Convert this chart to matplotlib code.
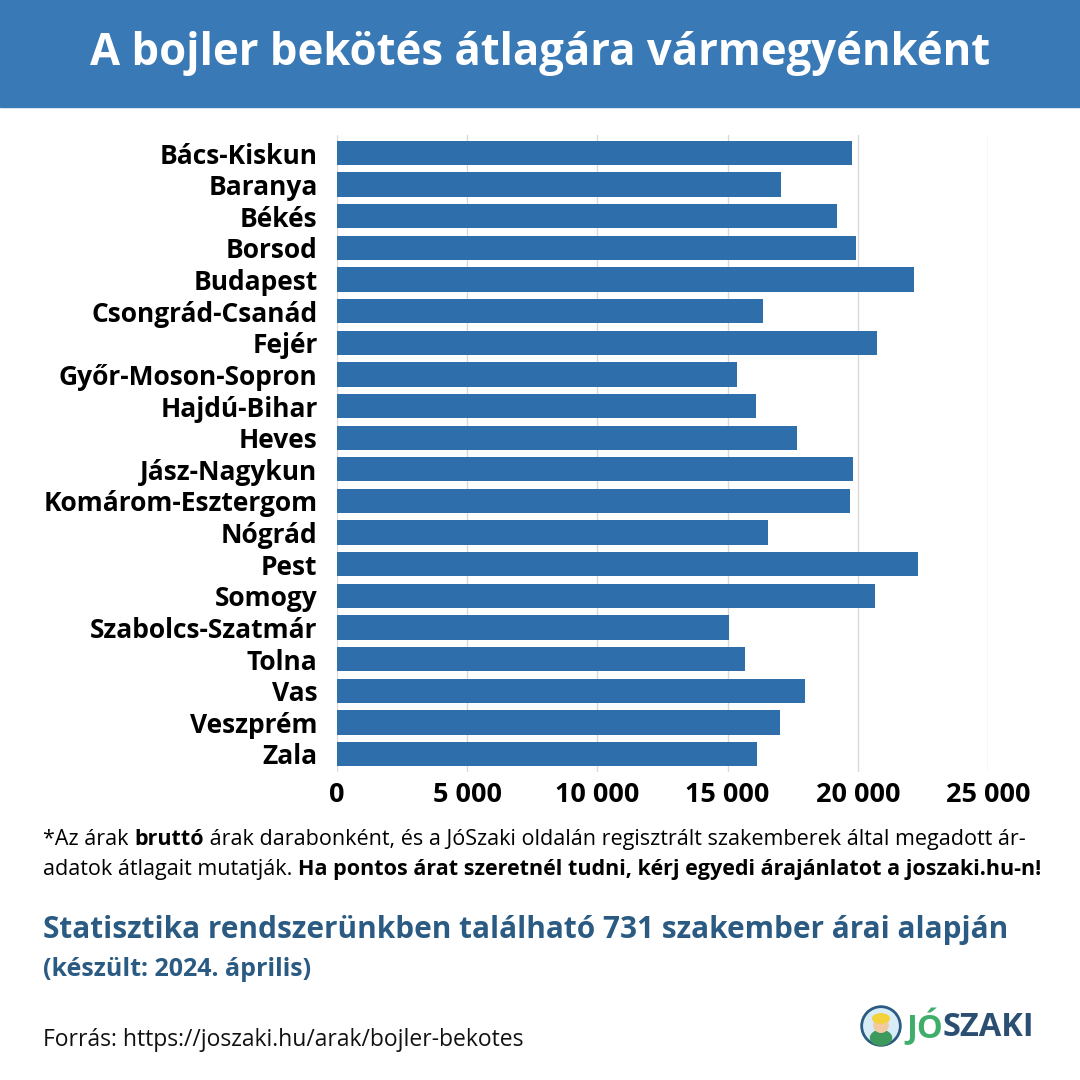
import numpy as np
import matplotlib
matplotlib.use('Agg')
import matplotlib.pyplot as plt
from matplotlib.patches import Rectangle, Circle, Ellipse
from matplotlib.ticker import FuncFormatter

plt.rcParams['font.family'] = ['Open Sans', 'Noto Sans', 'DejaVu Sans']

# adatok
counties = ['Bács-Kiskun', 'Baranya', 'Békés', 'Borsod', 'Budapest', 'Csongrád-Csanád',
            'Fejér', 'Győr-Moson-Sopron', 'Hajdú-Bihar', 'Heves', 'Jász-Nagykun',
            'Komárom-Esztergom', 'Nógrád', 'Pest', 'Somogy', 'Szabolcs-Szatmár',
            'Tolna', 'Vas', 'Veszprém', 'Zala']
prices = [19770, 17040, 19190, 19920, 22150, 16350, 20730, 15350, 16080, 17650,
          19810, 19690, 16540, 22310, 20650, 15040, 15650, 17960, 17000, 16120]
xticks = [0, 5000, 10000, 15000, 20000, 25000]

title = 'A bojler bekötés átlagára vármegyénként'
note1 = [('*Az árak ', 'normal'), ('bruttó', 'bold'),
         (' árak darabonként, és a JóSzaki oldalán regisztrált szakemberek által megadott ár-', 'normal')]
note2 = [('adatok átlagait mutatják. ', 'normal'),
         ('Ha pontos árat szeretnél tudni, kérj egyedi árajánlatot a joszaki.hu-n!', 'bold')]
stat_line = 'Statisztika rendszerünkben található 731 szakember árai alapján'
date_line = '(készült: 2024. április)'
source = 'Forrás: https://joszaki.hu/arak/bojler-bekotes'

BAR = '#2e6fab'
HEAD = '#3879b6'
DARK = '#2b5b82'

W = H = 1080
fig = plt.figure(figsize=(10.8, 10.8), dpi=100)
fig.patch.set_facecolor('white')

# fejléc
fig.patches.append(Rectangle((0, 1 - 107 / H), 1, 107 / H, transform=fig.transFigure,
                             color=HEAD, zorder=0))
fig.text(0.5, 1 - 54 / H, title, ha='center', va='center', color='white',
         fontsize=31.4, fontweight='bold')

ax = fig.add_axes([337 / W, 1 - 772 / H, 651 / W, 637 / H])
y = np.arange(len(counties))
ax.barh(y, prices, height=0.77, color=BAR, zorder=2)
ax.set_ylim(19.57, -0.57)
ax.set_xlim(0, 25000)
ax.set_yticks(y)
ax.set_yticklabels(counties, fontsize=19, fontweight='bold')
ax.set_xticks(xticks)
ax.xaxis.set_major_formatter(FuncFormatter(lambda v, p: f'{int(v):,}'.replace(',', ' ')))
for lab in ax.get_xticklabels():
    lab.set_fontweight('bold')
    lab.set_fontsize(19.5)
ax.tick_params(axis='y', length=0, pad=14)
ax.tick_params(axis='x', length=0, pad=7)
ax.grid(axis='x', color='#d9d9d9', lw=1, zorder=0)
for s in ax.spines.values():
    s.set_visible(False)


def rich_line(x, y, parts, size, color='black', va='baseline'):
    # szövegdarabok egymás után, a szélességet a rendererből mérjük
    fig.canvas.draw()
    r = fig.canvas.get_renderer()
    inv = fig.transFigure.inverted()
    for part in parts:
        txt, w = part[0], part[1]
        c = part[2] if len(part) > 2 else color
        t = fig.text(x, y, txt, fontsize=size, fontweight=w, color=c,
                     ha='left', va=va)
        bb = t.get_window_extent(renderer=r)
        x = inv.transform((bb.x1, bb.y0))[0]


rich_line(43 / W, 1 - 845 / H, note1, 15.5)
rich_line(43 / W, 1 - 875 / H, note2, 15.5)

fig.text(43 / W, 1 - 930 / H, stat_line, fontsize=21.4, fontweight='bold',
         color=DARK, va='center')
fig.text(43 / W, 1 - 970 / H, date_line, fontsize=18, fontweight='bold',
         color=DARK, va='center')
fig.text(43 / W, 1 - 1040 / H, source, fontsize=16.5, color='#111111', va='center')

# logó
lax = fig.add_axes([860 / W, 1 - 1047 / H, 42 / W, 42 / H])
lax.set_xlim(0, 1)
lax.set_ylim(0, 1)
lax.axis('off')
lax.add_patch(Circle((0.5, 0.5), 0.46, facecolor='#d8ecf7', edgecolor='#2b5b82', lw=2))
lax.add_patch(Ellipse((0.5, 0.22), 0.5, 0.35, color='#3d9a5c'))
lax.add_patch(Circle((0.5, 0.52), 0.17, color='#f2c9a0'))
lax.add_patch(Ellipse((0.5, 0.68), 0.4, 0.22, color='#f4d23c'))
rich_line(906 / W, 1 - 1027 / H, [('JÓ', 'bold', '#3fae6a'), ('SZAKI', 'bold', '#2b4f73')],
          23.5, va='center')

fig.savefig('out.png', dpi=100)
